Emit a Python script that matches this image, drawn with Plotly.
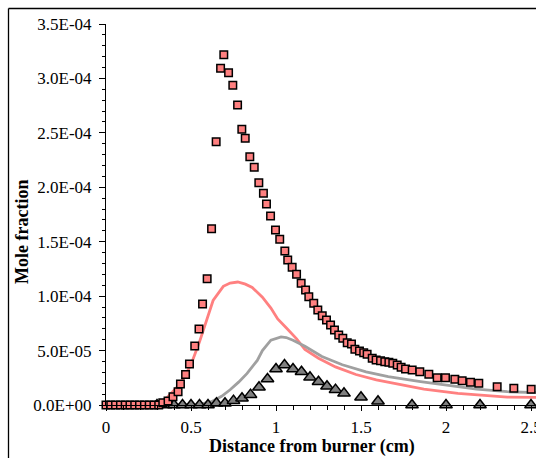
import plotly.graph_objects as go

# ---- data ----
sq_x = [0.000, 0.028, 0.056, 0.085, 0.113, 0.141, 0.169, 0.197, 0.226, 0.254, 0.282, 0.310,
        0.334, 0.365, 0.394, 0.424, 0.438, 0.468, 0.491, 0.522, 0.547, 0.568, 0.595, 0.621,
        0.648, 0.674, 0.693, 0.721, 0.746, 0.774, 0.799, 0.819, 0.846, 0.872, 0.899, 0.926,
        0.944, 0.968, 0.997, 1.022, 1.052, 1.069, 1.095, 1.121, 1.148, 1.174, 1.193, 1.222,
        1.246, 1.272, 1.297, 1.321, 1.344, 1.369, 1.393, 1.419, 1.444, 1.464, 1.491, 1.516,
        1.536, 1.566, 1.589, 1.615, 1.640, 1.664, 1.687, 1.713, 1.736, 1.762, 1.801, 1.846,
        1.899, 1.948, 1.997, 2.052, 2.095, 2.144, 2.193, 2.301, 2.399, 2.501]
sq_y_e5 = [0, 0, 0, 0, 0, 0, 0, 0, 0, 0, 0, 0,
           0.21, 0.37, 0.76, 1.22, 1.93, 2.80, 3.77, 5.42, 6.98, 9.28, 11.60, 16.19,
           24.19, 30.93, 32.18, 30.53, 29.37, 27.56, 25.33, 24.50, 22.81, 21.84, 20.42, 19.45,
           18.46, 17.36, 16.08, 15.22, 14.15, 13.32, 12.65, 12.01, 11.18, 10.56, 9.95, 9.34,
           8.73, 8.20, 7.81, 7.35, 6.89, 6.43, 6.13, 5.72, 5.60, 5.12, 4.96, 4.80,
           4.66, 4.29, 4.13, 4.07, 3.98, 3.92, 3.83, 3.67, 3.46, 3.31, 3.22, 3.06,
           2.82, 2.51, 2.51, 2.36, 2.23, 2.09, 1.99, 1.68, 1.53, 1.44]

tri_x = [0.30, 0.35, 0.40, 0.45, 0.50, 0.55, 0.60, 0.65, 0.70, 0.75, 0.80, 0.85, 0.90, 0.95,
         1.00, 1.05, 1.10, 1.15, 1.20, 1.25, 1.30, 1.35, 1.40, 1.50, 1.60, 1.80, 2.00, 2.20, 2.50]
tri_y_e5 = [0, 0, 0, 0, 0, 0, 0, 0.16, 0.16, 0.40, 0.62, 0.95, 1.63, 2.39,
            3.31, 3.67, 3.31, 3.06, 2.54, 2.14, 1.72, 1.41, 1.07, 0.71, 0.34, 0, 0, 0, 0]

pink_x = [0.00, 0.25, 0.30, 0.36, 0.44, 0.50, 0.55, 0.59, 0.63, 0.69, 0.73, 0.775, 0.82, 0.86,
          0.92, 0.97, 1.01, 1.06, 1.12, 1.17, 1.25, 1.35, 1.47, 1.59, 1.73, 1.87, 2.07, 2.26,
          2.36, 2.53]
pink_y_e5 = [0, 0, 0.1, 0.7, 2.0, 3.7, 5.8, 7.8, 9.6, 10.9, 11.2, 11.3, 11.1, 10.8,
             9.9, 8.9, 7.9, 7.1, 6.1, 5.1, 4.3, 3.5, 2.8, 2.3, 1.9, 1.45, 1.07, 0.83,
             0.72, 0.70]

gray_x = [0.00, 0.40, 0.55, 0.62, 0.68, 0.73, 0.78, 0.83, 0.89, 0.92, 0.95, 0.97, 1.03, 1.06,
          1.10, 1.17, 1.27, 1.39, 1.53, 1.66, 1.85, 1.99, 2.18, 2.36, 2.53]
gray_y_e5 = [0, 0, 0.05, 0.3, 0.8, 1.4, 2.1, 2.9, 4.1, 5.0, 5.6, 5.95, 6.25, 6.2,
             5.95, 5.4, 4.45, 3.7, 3.05, 2.6, 2.15, 1.85, 1.45, 1.22, 1.13]

y_tickvals = [0, 5e-5, 1e-4, 1.5e-4, 2e-4, 2.5e-4, 3e-4, 3.5e-4]
y_ticktext = ["0.0E+00", "5.0E-05", "1.0E-04", "1.5E-04", "2.0E-04", "2.5E-04", "3.0E-04", "3.5E-04"]
x_tickvals = [0, 0.5, 1, 1.5, 2, 2.5]
x_ticktext = ["0", "0.5", "1", "1.5", "2", "2.5"]
x_title = "Distance from burner (cm)"
y_title = "Mole fraction"

E5 = 1e-5
FONT = "Liberation Serif, Times New Roman, serif"

fig = go.Figure()
fig.add_trace(go.Scatter(x=pink_x, y=[v * E5 for v in pink_y_e5], mode="lines",
                         line=dict(color="#FF8080", width=2.8), cliponaxis=False))
fig.add_trace(go.Scatter(x=gray_x, y=[v * E5 for v in gray_y_e5], mode="lines",
                         line=dict(color="#A0A0A0", width=2.8), cliponaxis=False))
fig.add_trace(go.Scatter(x=tri_x, y=[v * E5 for v in tri_y_e5], mode="markers",
                         marker=dict(symbol="triangle-up", size=11, color="#808080",
                                     line=dict(color="black", width=1.5)),
                         cliponaxis=False))
fig.add_trace(go.Scatter(x=sq_x, y=[v * E5 for v in sq_y_e5], mode="markers",
                         marker=dict(symbol="square", size=7.5, color="#FF8080",
                                     line=dict(color="black", width=1.5)),
                         cliponaxis=False))

L, T, B = 106, 24, 53
W, H = 536, 458
pw = W - L
ph = H - T - B

fig.update_layout(
    width=W, height=H,
    margin=dict(l=L, r=0, t=T, b=B, pad=0),
    paper_bgcolor="white", plot_bgcolor="white",
    showlegend=False,
    font=dict(family=FONT, color="black", size=17),
    xaxis=dict(range=[0, pw / 170.0], showgrid=False, zeroline=False, automargin=False,
               showline=True, linecolor="black", linewidth=1,
               ticks="outside", ticklen=5, tickcolor="black", tickwidth=1,
               tickvals=x_tickvals, ticktext=x_ticktext, ticklabeloverflow="allow",
               ticklabelstandoff=2,
               tickfont=dict(family=FONT, size=17, color="black"),
               minor=dict(dtick=0.1, tick0=0, ticks="outside", ticklen=4,
                          tickcolor="black", tickwidth=1)),
    yaxis=dict(range=[0, 3.5e-4], showgrid=False, zeroline=False, automargin=False,
               showline=True, linecolor="black", linewidth=1,
               ticks="outside", ticklen=6, tickcolor="black", tickwidth=1,
               tickvals=y_tickvals, ticktext=y_ticktext, ticklabelstandoff=4,
               tickfont=dict(family=FONT, size=17, color="black"),
               minor=dict(dtick=1e-5, tick0=0, ticks="outside", ticklen=3,
                          tickcolor="black", tickwidth=1)),
)

# axis titles placed as annotations (pixel positions converted to paper coords)
fig.add_annotation(text="<b>" + x_title + "</b>", xref="paper", yref="paper",
                   x=(312 - L) / pw, y=(H - B - 446) / ph, xanchor="center", yanchor="middle",
                   showarrow=False, font=dict(family=FONT, size=18, color="black"))
fig.add_annotation(text="<b>" + y_title + "</b>", xref="paper", yref="paper",
                   x=(22 - L) / pw, y=(H - B - 232) / ph, xanchor="center", yanchor="middle",
                   textangle=-90, showarrow=False, font=dict(family=FONT, size=18, color="black"))

# outer chart-area frame (left and top edges)
x0p = (8.5 - L) / pw
y0p = 1 + (T - 8.5) / ph
ybot = -(B + 5) / ph
fig.add_shape(type="line", xref="paper", yref="paper", x0=x0p, x1=1.02, y0=y0p, y1=y0p,
              line=dict(color="black", width=1.3))
fig.add_shape(type="line", xref="paper", yref="paper", x0=x0p, x1=x0p, y0=y0p, y1=ybot,
              line=dict(color="black", width=1.3))

fig.write_html("out.html")
